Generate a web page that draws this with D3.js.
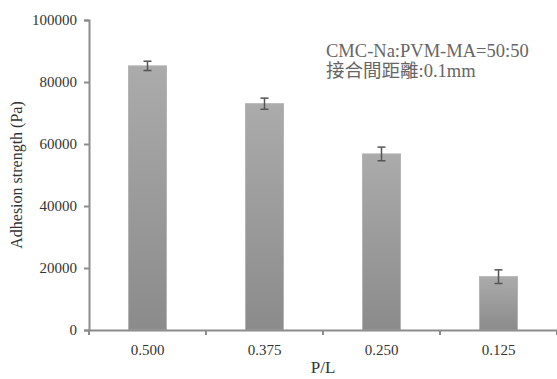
<!DOCTYPE html>
<html>
<head>
<meta charset="utf-8">
<script src="https://cdn.jsdelivr.net/npm/d3@7"></script>
<style>
  body { margin: 0; background: #fff; }
  svg { display: block; }
</style>
</head>
<body>
<div id="chart"></div>
<script>
// data
const categories = ['0.500', '0.375', '0.250', '0.125'];
const values = [85200, 73000, 56800, 17200];
const errors = [1500, 1800, 2200, 2200];
const yTicks = [0, 20000, 40000, 60000, 80000, 100000];
const noteLines = ['CMC-Na:PVM-MA=50:50', '接合間距離:0.1mm'];

const width = 557, height = 379;
const margin = { top: 20, right: 0, bottom: 49, left: 89 };
const serif = '"Liberation Serif", "Times New Roman", "Noto Sans CJK TC", serif';

const svg = d3.select('#chart').append('svg')
    .attr('width', width)
    .attr('height', height);

const defs = svg.append('defs');
const grad = defs.append('linearGradient')
    .attr('id', 'barGrad')
    .attr('x1', 0).attr('y1', 0).attr('x2', 0).attr('y2', 1);
grad.append('stop').attr('offset', '0%').attr('stop-color', '#ababab');
grad.append('stop').attr('offset', '100%').attr('stop-color', '#8b8b8b');

const x = d3.scaleBand()
    .domain(categories)
    .range([margin.left, width - margin.right])
    .paddingInner(0.675)
    .paddingOuter(0.3375);

const y = d3.scaleLinear()
    .domain([0, 100000])
    .range([height - margin.bottom, margin.top]);

// bars
svg.append('g')
    .selectAll('rect')
    .data(values)
    .join('rect')
    .attr('x', (d, i) => x(categories[i]))
    .attr('y', d => y(d))
    .attr('width', x.bandwidth())
    .attr('height', d => y(0) - y(d))
    .attr('fill', 'url(#barGrad)')
    .attr('stroke', '#b4b4b4')
    .attr('stroke-width', 1);

// error bars
const eb = svg.append('g')
    .attr('stroke', '#555')
    .attr('stroke-width', 1.5);
values.forEach((v, i) => {
    const cx = x(categories[i]) + x.bandwidth() / 2;
    const top = y(v + errors[i]);
    const bot = y(v - errors[i]);
    eb.append('line').attr('x1', cx).attr('x2', cx).attr('y1', top).attr('y2', bot);
    eb.append('line').attr('x1', cx - 4).attr('x2', cx + 4).attr('y1', top).attr('y2', top);
    eb.append('line').attr('x1', cx - 4).attr('x2', cx + 4).attr('y1', bot).attr('y2', bot);
});

// y axis
const yAxis = svg.append('g')
    .attr('transform', `translate(${margin.left},0)`)
    .call(d3.axisLeft(y).tickValues(yTicks).tickFormat(d3.format('d')).tickSize(5).tickPadding(7));

// x axis with ticks on band boundaries
const xAxis = svg.append('g')
    .attr('transform', `translate(0,${y(0)})`)
    .call(d3.axisBottom(x).tickSize(0).tickPadding(14));

const step = x.step();
xAxis.selectAll('.sep')
    .data(d3.range(categories.length + 1))
    .join('line')
    .attr('class', 'sep')
    .attr('x1', i => margin.left + i * step)
    .attr('x2', i => margin.left + i * step)
    .attr('y1', 0)
    .attr('y2', 5);

[yAxis, xAxis].forEach(a => {
    a.select('.domain').attr('stroke', '#8c8c8c').attr('stroke-width', 2);
    a.selectAll('line').attr('stroke', '#8c8c8c').attr('stroke-width', 2);
    a.selectAll('text')
        .attr('fill', '#333')
        .style('font-family', serif)
        .style('font-size', '15px');
});

// axis titles
svg.append('text')
    .attr('transform', `translate(22,${(y(0) + y(100000)) / 2}) rotate(-90)`)
    .attr('text-anchor', 'middle')
    .attr('fill', '#333')
    .style('font-family', serif)
    .style('font-size', '16px')
    .text('Adhesion strength (Pa)');

svg.append('text')
    .attr('x', 323)
    .attr('y', 373)
    .attr('text-anchor', 'middle')
    .attr('fill', '#333')
    .style('font-family', serif)
    .style('font-size', '17px')
    .text('P/L');

// note
svg.append('g')
    .selectAll('text')
    .data(noteLines)
    .join('text')
    .attr('x', 326)
    .attr('y', (d, i) => 57 + i * 20)
    .attr('fill', '#666')
    .style('font-family', serif)
    .style('font-size', '18.5px')
    .text(d => d);
</script>
</body>
</html>
